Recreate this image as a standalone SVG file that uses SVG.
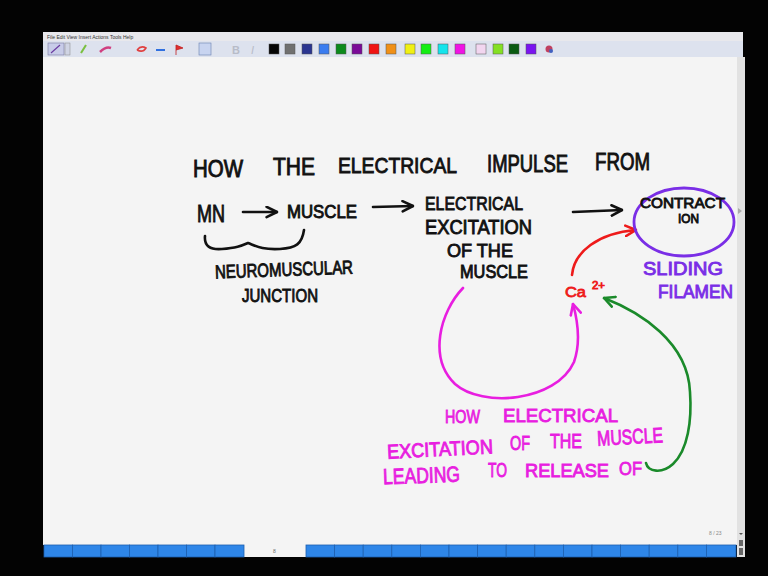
<svg xmlns="http://www.w3.org/2000/svg" width="768" height="576" viewBox="0 0 768 576">
<defs>
<style>
.hw{font-family:"Liberation Sans","DejaVu Sans",sans-serif;font-weight:normal;}
.k{fill:#111;stroke:#111;stroke-width:0.9;}
.m{fill:#e81ee0;stroke:#e81ee0;stroke-width:0.9;}
.p{fill:#7a2ee6;stroke:#7a2ee6;stroke-width:0.9;}
.r{fill:#ee1a1a;stroke:#ee1a1a;stroke-width:0.8;}
.ln{fill:none;stroke-width:2.6;stroke-linecap:round;stroke-linejoin:round;}
.sw{stroke:#555;stroke-width:0.5;}
.menu{font-family:"Liberation Sans",sans-serif;font-size:5px;fill:#333;}
.seg{fill:#2e86e8;stroke:#1c5fb0;stroke-width:0.8;}
</style>
<marker id="ak" viewBox="0 0 10 10" refX="9" refY="5" markerWidth="5" markerHeight="5" orient="auto" markerUnits="strokeWidth"><path d="M1 1 L9 5 L1 9" fill="none" stroke="#111" stroke-width="2" stroke-linecap="round" stroke-linejoin="round"/></marker>
<marker id="ar" viewBox="0 0 10 10" refX="9" refY="5" markerWidth="5" markerHeight="5" orient="auto" markerUnits="strokeWidth"><path d="M1 1 L9 5 L1 9" fill="none" stroke="#ee1a1a" stroke-width="2" stroke-linecap="round" stroke-linejoin="round"/></marker>
<marker id="am" viewBox="0 0 10 10" refX="9" refY="5" markerWidth="5" markerHeight="5" orient="auto" markerUnits="strokeWidth"><path d="M1 1 L9 5 L1 9" fill="none" stroke="#e81ee0" stroke-width="2" stroke-linecap="round" stroke-linejoin="round"/></marker>
<marker id="ag" viewBox="0 0 10 10" refX="9" refY="5" markerWidth="5" markerHeight="5" orient="auto" markerUnits="strokeWidth"><path d="M1 1 L9 5 L1 9" fill="none" stroke="#1a8a2a" stroke-width="2" stroke-linecap="round" stroke-linejoin="round"/></marker>
</defs>
<rect x="0" y="0" width="768" height="576" fill="#030303"/>
<g id="window">
<rect x="43" y="32" width="700" height="9" fill="#e8e8ec"/>
<text class="menu" x="47" y="38.5">File  Edit  View  Insert  Actions  Tools  Help</text>
<rect x="43" y="41" width="700" height="16" fill="#dde2ee"/>
<rect x="48" y="43" width="16" height="12" fill="#c8cce8" stroke="#7a7aa0" stroke-width="0.6"/>
<path d="M51 53 L60 45" stroke="#6a3aa0" stroke-width="1.2"/>
<rect x="65" y="43" width="5" height="12" fill="#d0d4e4" stroke="#888" stroke-width="0.5"/>
<path d="M81 53 L86 45" stroke="#7ac040" stroke-width="2"/>
<path d="M100 52 Q106 46 111 48" stroke="#d04080" stroke-width="2.5" fill="none"/>
<path d="M137 50 q4 -5 9 -2 q-3 5 -9 2" fill="none" stroke="#e04040" stroke-width="1.5"/>
<path d="M156 50 h9" stroke="#3070e0" stroke-width="2"/>
<path d="M176 55 V45 l7 3 -7 2" fill="#e03030" stroke="#c02020" stroke-width="0.8"/>
<rect x="199" y="43" width="12" height="12" fill="#c8d4f0" stroke="#6a80b0" stroke-width="0.6"/>
<text x="232" y="54" font-family="Liberation Sans,sans-serif" font-weight="bold" font-size="11" fill="#b8bcc8">B</text>
<text x="251" y="54" font-family="Liberation Sans,sans-serif" font-style="italic" font-size="11" fill="#b8bcc8">I</text>
<g class="sw">
<rect x="269" y="44" width="10" height="10" fill="#050505"/>
<rect x="285" y="44" width="10" height="10" fill="#707070"/>
<rect x="302" y="44" width="10" height="10" fill="#2a3590"/>
<rect x="319" y="44" width="10" height="10" fill="#3a7cf0"/>
<rect x="336" y="44" width="10" height="10" fill="#0c8a1c"/>
<rect x="352" y="44" width="10" height="10" fill="#7a0a98"/>
<rect x="369" y="44" width="10" height="10" fill="#f01414"/>
<rect x="386" y="44" width="10" height="10" fill="#f09018"/>
<rect x="405" y="44" width="10" height="10" fill="#f0f014"/>
<rect x="421" y="44" width="10" height="10" fill="#14ee14"/>
<rect x="438" y="44" width="10" height="10" fill="#14e4ec"/>
<rect x="455" y="44" width="10" height="10" fill="#f014e4"/>
<rect x="476" y="44" width="10" height="10" fill="#f2d6f0"/>
<rect x="493" y="44" width="10" height="10" fill="#84e024"/>
<rect x="509" y="44" width="10" height="10" fill="#0a5a12"/>
<rect x="526" y="44" width="10" height="10" fill="#7a14f0"/>
</g>
<circle cx="549" cy="49" r="3.5" fill="#c04060"/>
<circle cx="551" cy="51" r="2" fill="#4060c0"/>
<rect x="43" y="57" width="694" height="488" fill="#f4f4f4"/>
<rect x="737" y="57" width="8" height="500" fill="#e2e2e2"/>
<path d="M738 208 l4 3 -4 3" fill="#aaa"/>
<text x="709" y="535" font-family="Liberation Sans,sans-serif" font-size="5" fill="#888">8 / 23</text>
<path d="M739 533 h4 l-2 2z" fill="#555"/>
<rect x="739" y="540" width="4" height="6" fill="#666"/>
<rect x="739" y="548" width="4" height="7" fill="#666"/>
<rect x="44" y="545" width="692" height="12" fill="#f4f4f4"/>
<g>
<rect class="seg" x="44" y="545" width="28.5" height="12"/>
<rect class="seg" x="72.5" y="545" width="28.5" height="12"/>
<rect class="seg" x="101" y="545" width="28.5" height="12"/>
<rect class="seg" x="129.5" y="545" width="28.5" height="12"/>
<rect class="seg" x="158" y="545" width="28.5" height="12"/>
<rect class="seg" x="186.5" y="545" width="28.5" height="12"/>
<rect class="seg" x="215" y="545" width="29" height="12"/>
<rect class="seg" x="306" y="545" width="28.6" height="12"/>
<rect class="seg" x="334.6" y="545" width="28.6" height="12"/>
<rect class="seg" x="363.2" y="545" width="28.6" height="12"/>
<rect class="seg" x="391.8" y="545" width="28.6" height="12"/>
<rect class="seg" x="420.4" y="545" width="28.6" height="12"/>
<rect class="seg" x="449" y="545" width="28.6" height="12"/>
<rect class="seg" x="477.6" y="545" width="28.6" height="12"/>
<rect class="seg" x="506.2" y="545" width="28.6" height="12"/>
<rect class="seg" x="534.8" y="545" width="28.6" height="12"/>
<rect class="seg" x="563.4" y="545" width="28.6" height="12"/>
<rect class="seg" x="592" y="545" width="28.6" height="12"/>
<rect class="seg" x="620.6" y="545" width="28.6" height="12"/>
<rect class="seg" x="649.2" y="545" width="28.6" height="12"/>
<rect class="seg" x="677.8" y="545" width="28.6" height="12"/>
<rect class="seg" x="706.4" y="545" width="29.6" height="12"/>
</g>
<text x="273" y="553" font-family="Liberation Sans,sans-serif" font-size="5" fill="#666">8</text>
</g>
<g id="connectors">
<path class="ln" stroke="#111" d="M243 212 L277 212" marker-end="url(#ak)"/>
<path class="ln" stroke="#111" d="M373 207 L413 206" marker-end="url(#ak)"/>
<path class="ln" stroke="#111" d="M573 212 L622 210" marker-end="url(#ak)"/>
<path class="ln" stroke="#ee1a1a" d="M572 275 C574 252 598 233 636 230" marker-end="url(#ar)"/>
<path class="ln" stroke="#e81ee0" d="M463 288 C440 312 428 358 455 384 C482 408 556 402 574 362 C581 342 578 322 573 304" marker-end="url(#am)"/>
<path class="ln" stroke="#1a8a2a" d="M646 463 C648 472 662 474 673 464 C688 450 692 420 690 392 C688 342 640 312 604 298" marker-end="url(#ag)"/>
<path class="ln" stroke="#111" d="M205 236 C204 246 210 250 222 249 C236 248 241 246 248 243 C256 246 262 250 280 249 C296 248 302 244 304 230"/>
</g>
<g id="title">
<text class="hw k" x="193" y="177" font-size="23" textLength="50" lengthAdjust="spacingAndGlyphs">HOW</text>
<text class="hw k" x="273" y="175" font-size="23" textLength="42" lengthAdjust="spacingAndGlyphs">THE</text>
<text class="hw k" x="338" y="173" font-size="22" textLength="119" lengthAdjust="spacingAndGlyphs">ELECTRICAL</text>
<text class="hw k" x="487" y="172" font-size="23" textLength="81" lengthAdjust="spacingAndGlyphs">IMPULSE</text>
<text class="hw k" x="595" y="170" font-size="23" textLength="55" lengthAdjust="spacingAndGlyphs">FROM</text>
</g>
<g id="mn"><text class="hw k" x="197" y="222" font-size="24" textLength="28" lengthAdjust="spacingAndGlyphs">MN</text></g>
<g id="muscle"><text class="hw k" x="287" y="218" font-size="18" textLength="70" lengthAdjust="spacingAndGlyphs">MUSCLE</text></g>
<g id="excitation">
<text class="hw k" x="425" y="210" font-size="19" textLength="98" lengthAdjust="spacingAndGlyphs">ELECTRICAL</text>
<text class="hw k" x="425" y="234" font-size="20" textLength="107" lengthAdjust="spacingAndGlyphs">EXCITATION</text>
<text class="hw k" x="447" y="257" font-size="19" textLength="66" lengthAdjust="spacingAndGlyphs">OF THE</text>
<text class="hw k" x="460" y="278" font-size="18" textLength="68" lengthAdjust="spacingAndGlyphs">MUSCLE</text>
</g>
<g id="nmj">
<text class="hw k" x="215" y="276" font-size="19" textLength="138" lengthAdjust="spacingAndGlyphs" transform="rotate(-2 284 270)">NEUROMUSCULAR</text>
<text class="hw k" x="242" y="302" font-size="19" textLength="76" lengthAdjust="spacingAndGlyphs">JUNCTION</text>
</g>
<g id="contraction">
<ellipse cx="684" cy="222" rx="50" ry="34" fill="none" stroke="#7a2ee6" stroke-width="2.8"/>
<text class="hw k" x="640" y="208" font-size="15" textLength="85" lengthAdjust="spacingAndGlyphs">CONTRACT</text>
<text class="hw k" x="678" y="223" font-size="13" textLength="21" lengthAdjust="spacingAndGlyphs">ION</text>
</g>
<g id="sliding">
<text class="hw p" x="643" y="275" font-size="18" textLength="80" lengthAdjust="spacingAndGlyphs">SLIDING</text>
<text class="hw p" x="658" y="298" font-size="18" textLength="75" lengthAdjust="spacingAndGlyphs">FILAMEN</text>
</g>
<g id="calcium"><text class="hw r" x="565" y="297" font-size="15" textLength="21" lengthAdjust="spacingAndGlyphs">Ca</text><text class="hw r" x="592" y="289" font-size="10" textLength="13" lengthAdjust="spacingAndGlyphs">2+</text></g>
<g id="question">
<text class="hw m" x="445" y="423" font-size="19" textLength="35" lengthAdjust="spacingAndGlyphs">HOW</text>
<text class="hw m" x="503" y="422" font-size="19" textLength="115" lengthAdjust="spacingAndGlyphs">ELECTRICAL</text>
<text class="hw m" x="387" y="456" font-size="20" textLength="106" lengthAdjust="spacingAndGlyphs" transform="rotate(-3 440 450)">EXCITATION</text>
<text class="hw m" x="510" y="450" font-size="20" textLength="20" lengthAdjust="spacingAndGlyphs">OF</text>
<text class="hw m" x="550" y="448" font-size="20" textLength="32" lengthAdjust="spacingAndGlyphs">THE</text>
<text class="hw m" x="597" y="444" font-size="21" textLength="66" lengthAdjust="spacingAndGlyphs" transform="rotate(-3 630 436)">MUSCLE</text>
<text class="hw m" x="383" y="483" font-size="22" textLength="77" lengthAdjust="spacingAndGlyphs" transform="rotate(-2 420 476)">LEADING</text>
<text class="hw m" x="488" y="477" font-size="20" textLength="19" lengthAdjust="spacingAndGlyphs">TO</text>
<text class="hw m" x="525" y="477" font-size="19" textLength="84" lengthAdjust="spacingAndGlyphs">RELEASE</text>
<text class="hw m" x="619" y="475" font-size="19" textLength="23" lengthAdjust="spacingAndGlyphs">OF</text>
</g>
</svg>
